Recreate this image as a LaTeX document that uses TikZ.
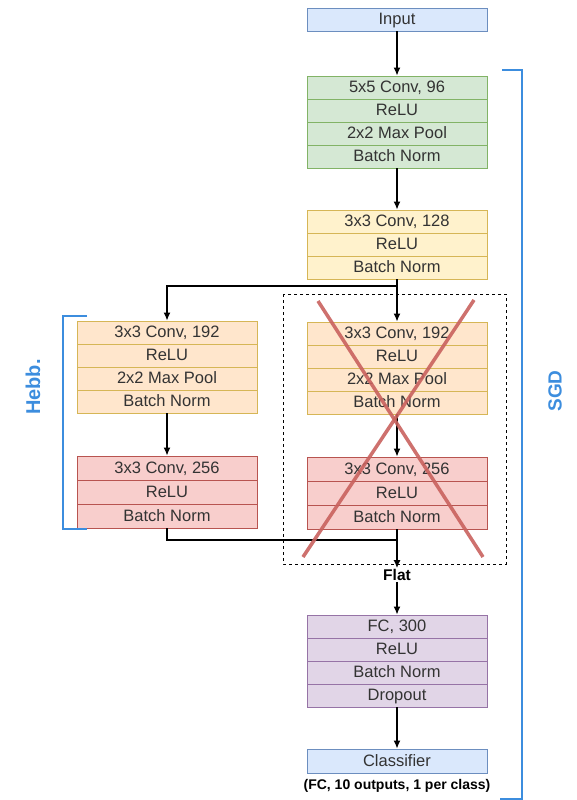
\documentclass[tikz,border=0pt]{standalone}
\usepackage{fontspec}
\setmainfont{Liberation Sans}
\usetikzlibrary{arrows, arrows.meta}
\definecolor{bluefill}{HTML}{DAE8FC}\definecolor{bluedraw}{HTML}{6C8EBF}
\definecolor{greenfill}{HTML}{D5E8D4}\definecolor{greendraw}{HTML}{82B366}
\definecolor{yellowfill}{HTML}{FFF2CC}\definecolor{yellowdraw}{HTML}{D6B656}
\definecolor{peachfill}{HTML}{FFE6CC}
\definecolor{redfill}{HTML}{F8CECC}\definecolor{reddraw}{HTML}{B85450}
\definecolor{purplefill}{HTML}{E1D5E7}\definecolor{purpledraw}{HTML}{9673A6}
\definecolor{brace}{HTML}{3C8DDE}\definecolor{cross}{HTML}{C9625E}
\definecolor{txt}{HTML}{333333}

\begin{document}
\begin{tikzpicture}[x=1pt, y=-1pt]
	\tikzstyle{layer} = [draw, line width=0.9pt, minimum width=180pt, minimum height=23pt, inner sep=0pt, text height=13pt, text depth=3pt, text=txt, font=\fontsize{16.5}{18}\selectfont]
	\tikzstyle{io} = [layer, fill=bluefill, draw=bluedraw]
	\tikzstyle{grn} = [layer, fill=greenfill, draw=greendraw]
	\tikzstyle{ylw} = [layer, fill=yellowfill, draw=yellowdraw]
	\tikzstyle{pch} = [layer, fill=peachfill, draw=yellowdraw]
	\tikzstyle{rd} = [layer, fill=redfill, draw=reddraw, minimum height=24pt]
	\tikzstyle{prp} = [layer, fill=purplefill, draw=purpledraw]
	\tikzstyle{flow} = [line width=1.3pt, -{Latex[length=8pt, width=7pt]}]
	\useasboundingbox (0,0) rectangle (576,800);

	\node[io] (in) at (397,19.5) {Input};
	\node[grn] (g1) at (397,87.5) {5x5 Conv, 96}; \node[grn] (g2) at (397,110.5) {ReLU}; \node[grn] (g3) at (397,133.5) {2x2 Max Pool}; \node[grn] (g4) at (397,156.5) {Batch Norm};
	\node[ylw] (y1) at (397,221.5) {3x3 Conv, 128}; \node[ylw] (y2) at (397,244.5) {ReLU}; \node[ylw] (y3) at (397,267.5) {Batch Norm};

	\node[pch] (ly1) at (167,332.5) {3x3 Conv, 192}; \node[pch] (ly2) at (167,355.5) {ReLU}; \node[pch] (ly3) at (167,378.5) {2x2 Max Pool}; \node[pch] (ly4) at (167,401.5) {Batch Norm};
	\node[rd] (lr1) at (167,468) {3x3 Conv, 256}; \node[rd] (lr2) at (167,492) {ReLU}; \node[rd] (lr3) at (167,516) {Batch Norm};

	\node[pch] (ry1) at (397,333.5) {3x3 Conv, 192}; \node[pch] (ry2) at (397,356.5) {ReLU}; \node[pch] (ry3) at (397,379.5) {2x2 Max Pool}; \node[pch] (ry4) at (397,402.5) {Batch Norm};
	\node[rd] (rr1) at (397,469) {3x3 Conv, 256}; \node[rd] (rr2) at (397,493) {ReLU}; \node[rd] (rr3) at (397,517) {Batch Norm};

	\node[text=black, font=\fontsize{15.5}{17}\selectfont\bfseries, inner sep=1pt] (flat) at (397,575) {Flat};
	\node[prp] (p1) at (397,626.5) {FC, 300}; \node[prp] (p2) at (397,649.5) {ReLU}; \node[prp] (p3) at (397,672.5) {Batch Norm}; \node[prp] (p4) at (397,695.5) {Dropout};
	\node[io, minimum height=24pt] (cls) at (397,761) {Classifier};
	\node[text=black, font=\fontsize{14}{15}\selectfont\bfseries, inner sep=1pt] (note) at (397,786) {(FC, 10 outputs, 1 per class)};

	\coordinate (split) at (397,286); \coordinate (join) at (397,540);

	% main path
	\draw[flow] (in) -- (g1); \draw[flow] (g4) -- (y1);
	\draw[line width=1.3pt] (y3) -- (split); \draw[flow] (split) -- (ry1); \draw[flow] (split) -| (ly1);
	\draw[flow] (ly4) -- (lr1); \draw[flow] (ry4) -- (rr1);
	\draw[line width=1.3pt] (lr3) |- (join); \draw[flow] (rr3) -- (flat);
	\draw[flow] (flat) -- (p1); \draw[flow] (p4) -- (cls);

	% removed branch
	\draw[dashed, line width=0.6pt] (283,294) rectangle (506,564);
	\draw[cross, line width=3.5pt, opacity=0.9] (318,301) -- (483,557); \draw[cross, line width=3.5pt, opacity=0.9] (474,300) -- (303,557);

	% brackets
	\draw[brace, line width=1.6pt] (87,316) -- (63,316) -- (63,529) -- (87,529);
	\node[brace, rotate=90, font=\fontsize{20}{22}\selectfont\bfseries] (hebb) at (33,387) {Hebb.};
	\draw[brace, line width=1.6pt] (502,70) -- (522,70) -- (522,799) -- (500,799);
	\node[brace, rotate=90, font=\fontsize{19}{21}\selectfont\bfseries] (sgd) at (555,391) {SGD};
\end{tikzpicture}
\end{document}
